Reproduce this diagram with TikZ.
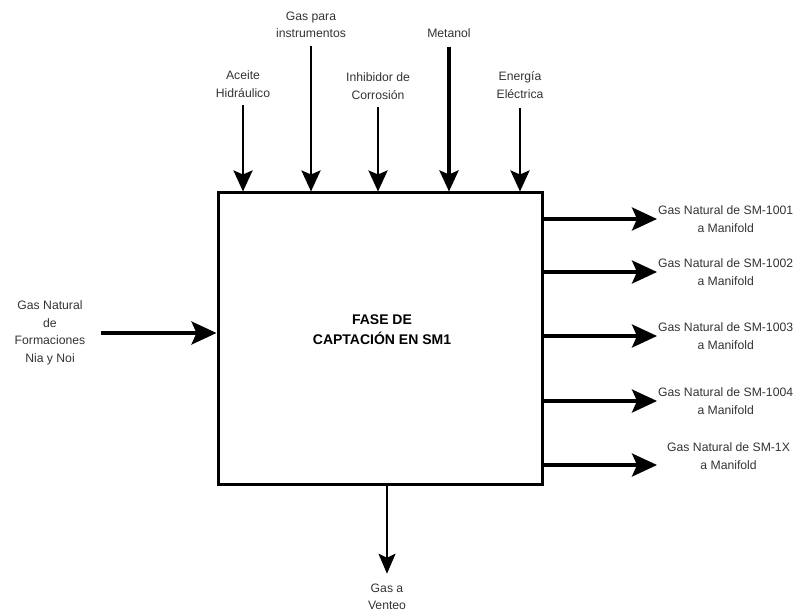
\documentclass[tikz,border=0pt]{standalone}
\usepackage{fontspec}
\setmainfont{Liberation Sans}
\usetikzlibrary{positioning,arrows.meta}

\begin{document}
\begin{tikzpicture}[x=1pt, y=-1pt, font=\fontsize{12.2}{17.5}\selectfont,
  fase/.style={draw, line width=3pt, minimum width=324pt, minimum height=291pt, inner sep=0pt},
  titulo/.style={align=center, font=\bfseries\fontsize{14}{20}\selectfont},
  lab/.style={align=center, inner sep=1pt, text=black!80},
  arr/.style={-{Stealth[length=21pt, width=19pt, inset=4pt]}, line width=2.8pt},
  bigarr/.style={-{Stealth[length=25pt, width=23pt, inset=5pt]}, line width=3.4pt},
  thinarr/.style={-{Stealth[length=20pt, width=17pt, inset=4pt]}, line width=2pt},
  thickarr/.style={arr, line width=3.8pt}]
\useasboundingbox (0,0) rectangle (801,615);
% proceso central
\node[fase] (fase) at (380,338.5) {};
\node[titulo] (tit) at (382,330) {FASE DE\\CAPTACIÓN EN SM1};
% entradas superiores
\node[lab] (aceite) at (243,84) {Aceite\\Hidráulico};
\node[lab] (gasinst) at (311,25) {Gas para\\instrumentos};
\node[lab] (inhib) at (378,86) {Inhibidor de\\Corrosión};
\node[lab] (metanol) at (449,33) {Metanol};
\node[lab] (energia) at (520,85) {Energía\\Eléctrica};
\draw[arr, shorten <=7pt] (aceite.south) -- (aceite.south |- fase.north);
\draw[arr, shorten <=7pt] (gasinst.south) -- (gasinst.south |- fase.north);
\draw[arr, shorten <=7pt] (inhib.south) -- (inhib.south |- fase.north);
\draw[thickarr, shorten <=8pt] (metanol.south) -- (metanol.south |- fase.north);
\draw[arr, shorten <=8pt] (energia.south) -- (energia.south |- fase.north);
% entrada izquierda
\node[lab] (gasnat) at (50,333) {Gas Natural\\de\\Formaciones\\Nia y Noi};
\draw[bigarr, shorten <=15pt] (gasnat.east) -- (gasnat.east -| fase.west);
% salidas a manifold
\node[lab, anchor=west] (sm1) at (657,219) {Gas Natural de SM-1001\\a Manifold};
\node[lab, anchor=west] (sm2) at (657,272) {Gas Natural de SM-1002\\a Manifold};
\node[lab, anchor=west] (sm3) at (657,336) {Gas Natural de SM-1003\\a Manifold};
\node[lab, anchor=west] (sm4) at (657,401) {Gas Natural de SM-1004\\a Manifold};
\node[lab, anchor=west] (smx) at (666,456) {Gas Natural de SM-1X\\a Manifold};
\draw[bigarr] (sm1.west -| fase.east) -- (sm1.west);
\draw[bigarr] (sm2.west -| fase.east) -- (sm2.west);
\draw[bigarr] (sm3.west -| fase.east) -- (sm3.west);
\draw[bigarr] (sm4.west -| fase.east) -- (sm4.west);
\draw[bigarr, shorten >=9pt] ([yshift=-9pt]smx.west -| fase.east) -- ([yshift=-9pt]smx.west);
% salida inferior
\node[lab] (venteo) at (387,597) {Gas a\\Venteo};
\draw[thinarr, shorten >=9pt] (venteo.north |- fase.south) -- (venteo.north);
\end{tikzpicture}
\end{document}
